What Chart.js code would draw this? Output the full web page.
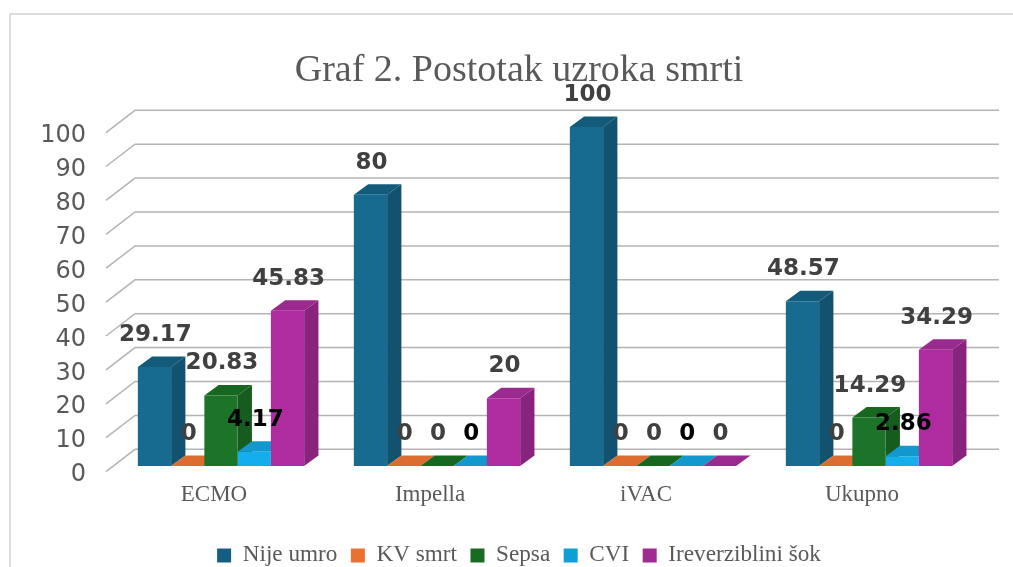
<!DOCTYPE html>
<html>
<head>
<meta charset="utf-8">
<title>Graf 2</title>
<script src="https://cdn.jsdelivr.net/npm/chart.js@4"></script>
<style>
    html, body { margin: 0; padding: 0; width: 1013px; height: 567px; overflow: hidden; background: #fff; }
    #frame { position: absolute; left: 9px; top: 13px; width: 1100px; height: 700px; border: 2px solid #dcdcdc; box-sizing: border-box; }
    #myChart { position: absolute; left: 0; top: 0; }
</style>
</head>
<body>
<div id="frame"></div>
<canvas id="myChart" width="1013" height="567"></canvas>
<script>
var categories = ["ECMO", "Impella", "iVAC", "Ukupno"];
var seriesNames = ["Nije umro", "KV smrt", "Sepsa", "CVI", "Ireverziblini šok"];
var nijeUmro = [29.17, 80, 100, 48.57];
var kvSmrt = [0, 0, 0, 0];
var sepsa = [20.83, 0, 0, 14.29];
var cvi = [4.17, 0, 0, 2.86];
var irevSok = [45.83, 20, 0, 34.29];
var seriesValues = [nijeUmro, kvSmrt, sepsa, cvi, irevSok];
var yTicks = [0, 10, 20, 30, 40, 50, 60, 70, 80, 90, 100];

var legendColors = ["#156082", "#e97132", "#196b24", "#0f9ed5", "#a02b93"];
var frontColors = ["#176a90", "#e97132", "#1c7429", "#15aeec", "#ae2ca0"];
var sideColors = ["#13526f", "#c65f2a", "#175c1f", "#0d87b6", "#88247d"];
var topColors = ["#135b7b", "#dd6c30", "#186720", "#1298cc", "#9a2a8d"];
var labelColors = ["#404040", "#404040", "#404040", "#000000", "#404040"];

// 3d look, offsets from the plane the bar fronts are on
var barDepthX = 14.3, barDepthY = 10.5;
var wallFront = { x: -7, y: 5.6 };
var wallBack = { x: 22, y: -16.7 };

function poly(c, pts, fill) {
    c.beginPath();
    c.moveTo(pts[0][0], pts[0][1]);
    for (var i = 1; i < pts.length; i++) c.lineTo(pts[i][0], pts[i][1]);
    c.closePath();
    c.fillStyle = fill;
    c.fill();
}

// the y labels stick out left of the axis box, stop them being clipped
var unclipTicks = {
    id: "unclipTicks",
    afterLayout: function (chart) {
        chart.scales.y.left = 0;
    }
};

var wallGrid = {
    id: "wallGrid",
    beforeDatasetsDraw: function (chart) {
        var c = chart.ctx, area = chart.chartArea, y = chart.scales.y;
        c.save();
        c.strokeStyle = "#b4b4b4";
        c.lineWidth = 1.5;
        yTicks.forEach(function (t) {
            var py = y.getPixelForValue(t);
            c.beginPath();
            c.moveTo(area.left + wallFront.x, py + wallFront.y);
            c.lineTo(area.left + wallBack.x, py + wallBack.y);
            c.lineTo(area.right + wallBack.x, py + wallBack.y);
            c.stroke();
        });
        c.restore();
    }
};

var barSides = {
    id: "barSides",
    beforeDatasetsDraw: function (chart) {
        var c = chart.ctx;
        c.save();
        chart.data.datasets.forEach(function (ds, i) {
            chart.getDatasetMeta(i).data.forEach(function (bar) {
                var l = bar.x - bar.width / 2, r = bar.x + bar.width / 2;
                var t = bar.y, b = bar.base;
                poly(c, [[r, t], [r + barDepthX, t - barDepthY], [r + barDepthX, b - barDepthY], [r, b]], sideColors[i]);
                poly(c, [[l, t], [r, t], [r + barDepthX, t - barDepthY], [l + barDepthX, t - barDepthY]], topColors[i]);
            });
        });
        c.restore();
    }
};

var valueLabels = {
    id: "valueLabels",
    afterDatasetsDraw: function (chart) {
        var c = chart.ctx;
        c.save();
        c.font = "bold 23px 'DejaVu Sans'";
        c.textAlign = "center";
        c.textBaseline = "middle";
        chart.data.datasets.forEach(function (ds, i) {
            chart.getDatasetMeta(i).data.forEach(function (bar, j) {
                c.fillStyle = labelColors[i];
                c.fillText(String(ds.data[j]), bar.x + 1, bar.y - 32);
            });
        });
        c.restore();
    }
};

var myChart = new Chart(document.getElementById("myChart"), {
    type: "bar",
    data: {
        labels: categories,
        datasets: seriesNames.map(function (name, i) {
            return {
                label: name,
                data: seriesValues[i],
                backgroundColor: frontColors[i],
                borderWidth: 0,
                barPercentage: 1,
                categoryPercentage: 0.77
            };
        })
    },
    options: {
        responsive: false,
        animation: false,
        layout: { padding: { left: 61, right: 36, top: 0, bottom: -10 } },
        scales: {
            x: {
                grid: { display: false, drawTicks: false },
                border: { display: false },
                ticks: {
                    color: "#595959",
                    font: { family: "'Liberation Serif'", size: 23 },
                    padding: 15.5,
                    labelOffset: -7,
                    maxRotation: 0
                },
                afterFit: function (scale) { scale.height = 64.3; }
            },
            y: {
                min: 0,
                max: 100,
                grid: { display: false, drawTicks: false },
                border: { display: false },
                afterBuildTicks: function (scale) {
                    scale.ticks = yTicks.map(function (v) { return { value: v }; });
                },
                ticks: {
                    color: "#595959",
                    font: { family: "'DejaVu Sans'", size: 24 },
                    padding: 27,
                    labelOffset: 9
                },
                afterFit: function (scale) { scale.width = 52; }
            }
        },
        plugins: {
            title: {
                display: true,
                text: "Graf 2. Postotak uzroka smrti",
                color: "#595959",
                font: { family: "'Liberation Serif'", size: 38, weight: "normal" },
                padding: { top: 48, bottom: 33.4 }
            },
            legend: {
                position: "bottom",
                labels: {
                    color: "#595959",
                    font: { family: "'Liberation Serif'", size: 23.2 },
                    boxWidth: 14,
                    boxHeight: 14,
                    padding: 13.5,
                    generateLabels: function () {
                        return seriesNames.map(function (name, i) {
                            return { text: name, fillStyle: legendColors[i], strokeStyle: legendColors[i], lineWidth: 0, datasetIndex: i, fontColor: "#595959" };
                        });
                    }
                }
            },
            tooltip: { enabled: false }
        }
    },
    plugins: [unclipTicks, wallGrid, barSides, valueLabels]
});
</script>
</body>
</html>
